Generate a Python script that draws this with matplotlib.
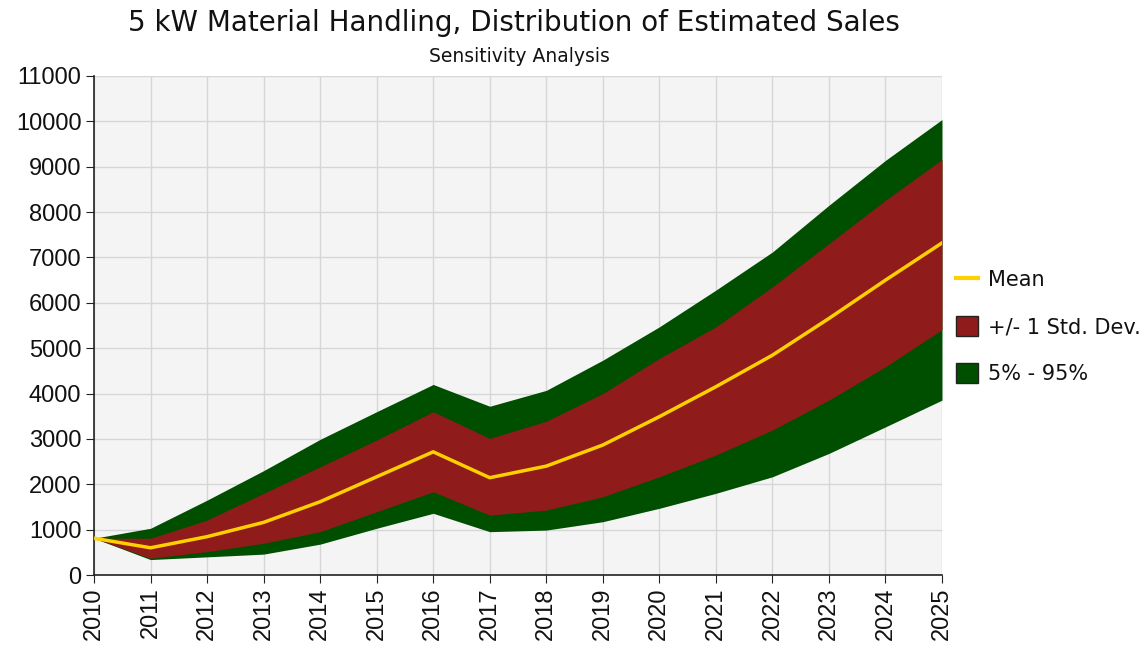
import matplotlib
matplotlib.use("Agg")
import matplotlib.pyplot as plt
from matplotlib.patches import Patch
from matplotlib.lines import Line2D

years = list(range(2010, 2026))
p95 = [810, 1030, 1650, 2300, 2990, 3600, 4200, 3720, 4070, 4735, 5470, 6280, 7120, 8150, 9140, 10040]
sd_hi = [810, 810, 1210, 1800, 2385, 2975, 3600, 3010, 3390, 4000, 4775, 5470, 6350, 7305, 8260, 9160]
mean = [810, 600, 845, 1160, 1615, 2165, 2715, 2145, 2400, 2865, 3490, 4150, 4845, 5655, 6500, 7320]
sd_lo = [810, 370, 515, 700, 955, 1395, 1835, 1320, 1430, 1725, 2165, 2645, 3195, 3855, 4590, 5410]
p05 = [810, 340, 400, 460, 680, 1030, 1360, 955, 990, 1175, 1470, 1800, 2165, 2680, 3265, 3855]

yticks = list(range(0, 11001, 1000))

title = "5 kW Material Handling, Distribution of Estimated Sales"
subtitle = "Sensitivity Analysis"

green = "#004f00"
red = "#901b1b"
yellow = "#ffd000"

fig = plt.figure(figsize=(11.48, 6.53), dpi=100)
ax = fig.add_axes([94/1148, 78/653, 848/1148, 499/653])
ax.set_facecolor("#f4f4f4")

ax.fill_between(years, p05, p95, color=green, lw=0, zorder=2)
ax.fill_between(years, sd_lo, sd_hi, color=red, lw=0, zorder=3)
ax.plot(years, mean, color=yellow, lw=2.5, zorder=4)

ax.set_xlim(2010, 2025)
ax.set_ylim(0, 11000)
ax.set_xticks(years)
ax.set_xticklabels([str(y) for y in years], rotation=90, fontsize=17, family="Liberation Sans", color="#111111")
ax.set_yticks(yticks)
ax.set_yticklabels([str(v) for v in yticks], fontsize=17, family="Liberation Sans", color="#111111")
ax.grid(True, color="#d6d6d6", lw=1, zorder=1)
ax.set_axisbelow(True)
for s in ["top", "right"]:
    ax.spines[s].set_visible(False)
for s in ["left", "bottom"]:
    ax.spines[s].set_color("#222222")
    ax.spines[s].set_linewidth(1.2)
ax.tick_params(axis="both", direction="out", length=6, color="#222222", pad=3)

fig.text(514/1148, 1 - 23/653, title, ha="center", va="center", fontsize=20, family="DejaVu Sans", color="#111111")
fig.text(519/1148, 1 - 57/653, subtitle, ha="center", va="center", fontsize=13.5, family="DejaVu Sans", color="#111111")

handles = [
    Line2D([0], [0], color=yellow, lw=3),
    Patch(facecolor=red, edgecolor="#222222"),
    Patch(facecolor=green, edgecolor="#222222"),
]
labels = ["Mean", "+/- 1 Std. Dev.", "5% - 95%"]
leg = fig.legend(handles, labels, loc="upper left", bbox_to_anchor=(956/1148, 1 - 269/653),
                 frameon=False, fontsize=15, handlelength=1.05, handleheight=1.1,
                 labelspacing=1.25, handletextpad=0.5, borderaxespad=0, borderpad=0)
for t in leg.get_texts():
    t.set_color("#111111")

fig.savefig("out.png", dpi=100)
